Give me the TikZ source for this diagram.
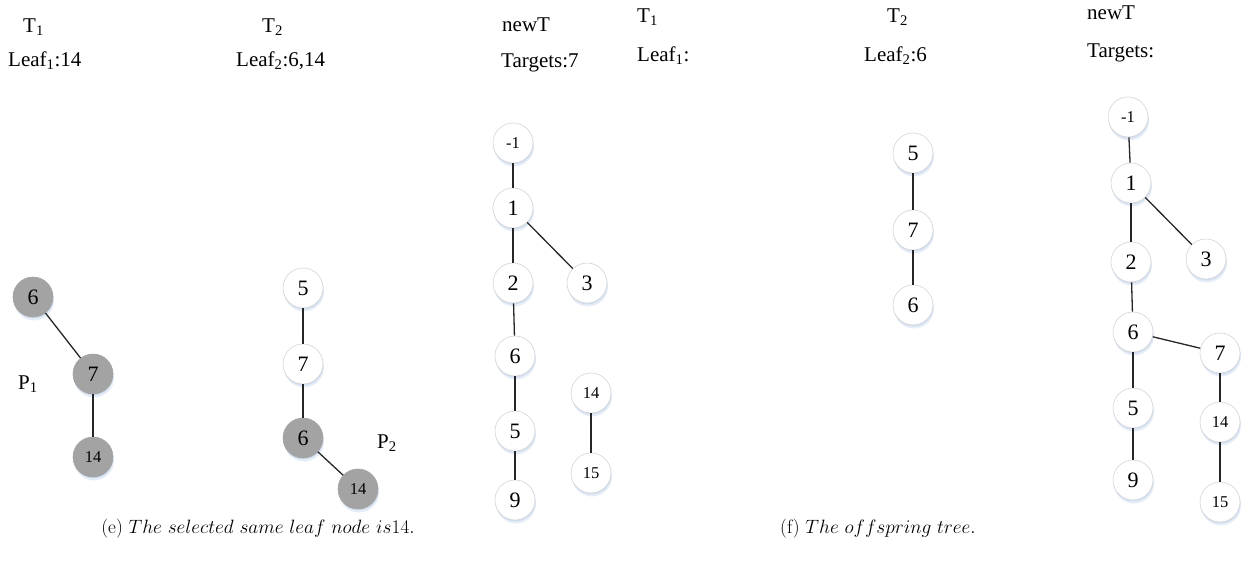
\RequirePackage{fix-cm}
\documentclass[tikz,border=0pt]{standalone}
\usepackage{fontspec}
\newfontfamily\tnr{Liberation Serif}
\usetikzlibrary{shadows}
\definecolor{ringgray}{HTML}{D4D4D4}
\definecolor{hitgray}{HTML}{A3A3A3}
\definecolor{glow}{HTML}{B8CCE8}
\tikzset{
  tnode/.style={circle, draw=ringgray, line width=0.6pt, fill=white,
    minimum size=40pt, inner sep=0pt,
    font=\tnr\fontsize{22}{22}\selectfont,
    drop shadow={fill=glow, opacity=0.35, shadow xshift=1pt, shadow yshift=-3.5pt},
    drop shadow={fill=glow, opacity=0.45, shadow xshift=0.5pt, shadow yshift=-1.5pt}},
  twodig/.style={font=\tnr\fontsize{16.5}{16.5}\selectfont},
  hit/.style={fill=hitgray, draw=hitgray},
  linkline/.style={draw=black!85, line width=1.3pt},
  lbl/.style={anchor=base west, inner sep=0pt, font=\tnr\fontsize{21}{21}\selectfont},
  captext/.style={anchor=base, inner sep=0pt, font=\fontsize{19.3}{19.3}\selectfont}
}
\begin{document}
\begin{tikzpicture}[x=1pt, y=-1pt]
\useasboundingbox (0,0) rectangle (1252,562);

% ---------- panel (e) ----------
\node[lbl] (e-t1) at (23,32) {T\textsubscript{1}};
\node[lbl] (e-l1) at (8,66) {Leaf\textsubscript{1}:14};
\node[lbl] (e-t2) at (262,32) {T\textsubscript{2}};
\node[lbl] (e-l2) at (236,66) {Leaf\textsubscript{2}:6,14};
\node[lbl] (e-nt) at (502,31) {newT};
\node[lbl] (e-tg) at (501,67) {Targets:7};

% parent P1
\node[tnode, hit] (p1a) at (33,297) {6};
\node[tnode, hit] (p1b) at (93,374) {7};
\node[tnode, hit, twodig] (p1c) at (93,457) {14};
\node[lbl] (p1) at (18,389) {P\textsubscript{1}};
\draw[linkline] (p1a) -- (p1b);
\draw[linkline] (p1b) -- (p1c);

% parent P2
\node[tnode] (p2a) at (303,288) {5};
\node[tnode] (p2b) at (303,364) {7};
\node[tnode, hit] (p2c) at (303,438) {6};
\node[tnode, hit, twodig] (p2d) at (358,489) {14};
\node[lbl] (p2) at (377,448) {P\textsubscript{2}};
\draw[linkline] (p2a) -- (p2b);
\draw[linkline] (p2b) -- (p2c);
\draw[linkline] (p2c) -- (p2d);

% new tree (e)
\node[tnode, twodig] (ea) at (513,143) {-1};
\node[tnode] (eb) at (513,208) {1};
\node[tnode] (ec) at (513,283) {2};
\node[tnode] (ed) at (587,283) {3};
\node[tnode] (ee) at (515,356) {6};
\node[tnode] (ef) at (515,431) {5};
\node[tnode] (eg) at (515,500) {9};
\node[tnode, twodig] (eh) at (591,393) {14};
\node[tnode, twodig] (ei) at (591,473) {15};
\draw[linkline] (ea) -- (eb);
\draw[linkline] (eb) -- (ec);
\draw[linkline] (eb) -- (ed);
\draw[linkline] (ec) -- (ee);
\draw[linkline] (ee) -- (ef);
\draw[linkline] (ef) -- (eg);
\draw[linkline] (eh) -- (ei);

\node[captext] (cap-e) at (258,533) {(e) $The\ selected\ same\ leaf\ node\ is14.$};

% ---------- panel (f) ----------
\node[lbl] (f-t1) at (637,22) {T\textsubscript{1}};
\node[lbl] (f-l1) at (637,61) {Leaf\textsubscript{1}:};
\node[lbl] (f-t2) at (887,22) {T\textsubscript{2}};
\node[lbl] (f-l2) at (864,61) {Leaf\textsubscript{2}:6};
\node[lbl] (f-nt) at (1087,19) {newT};
\node[lbl] (f-tg) at (1087,57) {Targets:};

% remaining T2
\node[tnode] (fa) at (913,153) {5};
\node[tnode] (fb) at (913,230) {7};
\node[tnode] (fc) at (913,305) {6};
\draw[linkline] (fa) -- (fb);
\draw[linkline] (fb) -- (fc);

% offspring tree
\node[tnode, twodig] (ga) at (1128,117) {-1};
\node[tnode] (gb) at (1131,183) {1};
\node[tnode] (gc) at (1131,262) {2};
\node[tnode] (gd) at (1206,259) {3};
\node[tnode] (ge) at (1133,332) {6};
\node[tnode] (gf) at (1220,353) {7};
\node[tnode] (gg) at (1133,408) {5};
\node[tnode, twodig] (gh) at (1220,422) {14};
\node[tnode] (gi) at (1133,480) {9};
\node[tnode, twodig] (gj) at (1220,502) {15};
\draw[linkline] (ga) -- (gb);
\draw[linkline] (gb) -- (gc);
\draw[linkline] (gb) -- (gd);
\draw[linkline] (gc) -- (ge);
\draw[linkline] (ge) -- (gf);
\draw[linkline] (ge) -- (gg);
\draw[linkline] (gg) -- (gi);
\draw[linkline] (gf) -- (gh);
\draw[linkline] (gh) -- (gj);

\node[captext] (cap-f) at (878,533) {(f) $The\ offspring\ tree.$};
\end{tikzpicture}
\end{document}
